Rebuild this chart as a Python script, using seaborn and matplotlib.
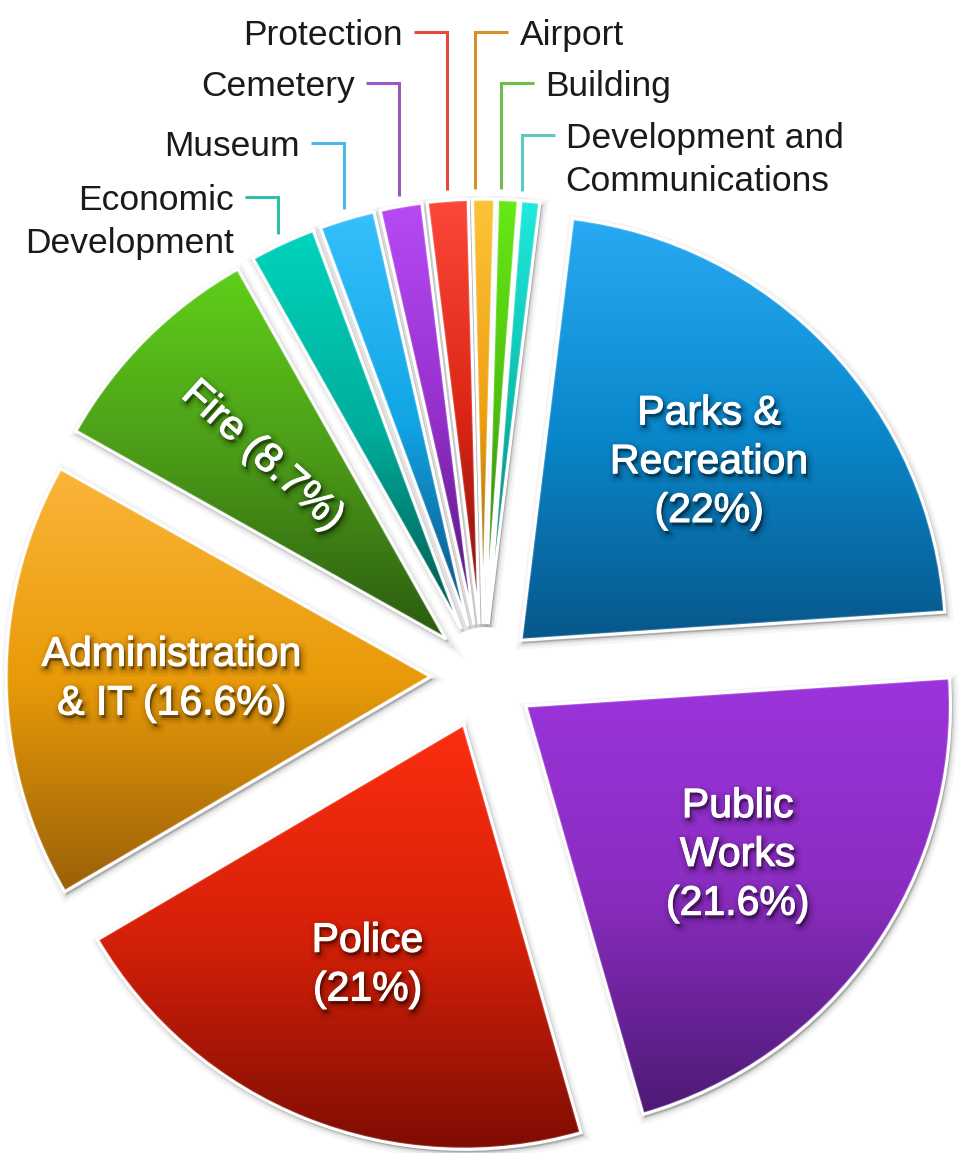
import numpy as np
import matplotlib
matplotlib.use("Agg")
import matplotlib.pyplot as plt
import matplotlib.patheffects as pe
from matplotlib.patches import Wedge
from matplotlib.colors import to_rgb
import seaborn as sns

# Budget share by department (%), clockwise from the top
departments = ["Parks & Recreation", "Public Works", "Police", "Administration & IT", "Fire",
               "Economic Development", "Museum", "Cemetery", "Protection", "Airport",
               "Building", "Development and Communications"]
shares = [22.0, 21.6, 21.0, 16.6, 8.7, 2.5, 2.1, 1.6, 1.55, 0.85, 0.78, 0.72]

# labels drawn inside the big slices / beside the small ones
inner_text = ["Parks &\nRecreation\n({}%)", "Public\nWorks\n({}%)", "Police\n({}%)",
              "Administration\n& IT ({}%)", "Fire ({}%)"]
outer_text = [["Economic", "Development"], ["Museum"], ["Cemetery"], ["Protection"],
              ["Airport"], ["Building"], ["Development and", "Communications"]]

# three-stop shading per slice: top, middle, bottom
top_colors = ["#28aaf4", "#9c34dc", "#fc2e10", "#fbb53a", "#5fd01a", "#00d4bc",
              "#36c0fc", "#b64af4", "#fc4838", "#fcc43a", "#66ea14", "#20eadc"]
mid_colors = ["#0a88cc", "#8a2cc0", "#d42008", "#e89a08", "#4c9c18", "#00ae9c",
              "#12a6e6", "#9630cc", "#dc2616", "#f0a010", "#4ebe10", "#0cbcac"]
bottom_colors = ["#07578a", "#4c1a74", "#7a0c04", "#9a6008", "#2a5a10", "#04504a",
                 "#0a4c7a", "#4a1470", "#7a1008", "#8a5c08", "#2a6008", "#0a5a56"]
line_colors = ["#2fbfa8", "#4db8e8", "#9b59c0", "#e8453c", "#d4902a", "#6cc04a", "#5cc8c0"]

# layout (pixels)
W, H = 962, 1153
center = (483, 477)
radius = 425
explode_px = 52
callout_y = [956, 1010, 1070, 1121, 1121, 1070, 1018]
callout_side = [-1, -1, -1, -1, 1, 1, 1]
callout_attach = [0.5, 0.5, 0.5, 0.5, 0.15, 0.15, 0.0]


class SoftShadow(pe.AbstractPathEffect):
    """blurred-looking drop shadow made from a few translucent strokes"""

    def __init__(self, offset=(1.5, -2.5), widths=(10, 6, 3, 0), alphas=(0.04, 0.07, 0.1, 0.2)):
        super().__init__(offset)
        self.widths = widths
        self.alphas = alphas

    def draw_path(self, renderer, gc, tpath, affine, rgbFace=None):
        for lw, a in zip(self.widths, self.alphas):
            gc0 = renderer.new_gc()
            gc0.copy_properties(gc)
            gc0.set_linewidth(lw)
            gc0.set_foreground("black")
            gc0.set_alpha(a)
            renderer.draw_path(gc0, tpath, affine + self._offset_transform(renderer), (0, 0, 0, a))
            gc0.restore()


sns.set_theme(style="white")
plt.rcParams['font.family'] = ['Liberation Sans', 'DejaVu Sans']

fig = plt.figure(figsize=(W / 100, H / 100), dpi=100)
ax = fig.add_axes([0, 0, 1, 1])

wedges, _ = ax.pie(shares, startangle=83, counterclock=False, radius=radius, center=center,
                   explode=[explode_px] * len(shares), colors=top_colors,
                   wedgeprops=dict(edgecolor="white", linewidth=2.2, zorder=3))

t = np.linspace(0, 1, 256)
for w, c_top, c_mid, c_bot in zip(wedges, top_colors, mid_colors, bottom_colors):
    w.set_facecolor("none")
    verts = w.get_path().vertices
    (x0, y0), (x1, y1) = verts.min(axis=0), verts.max(axis=0)
    stops = np.array([to_rgb(c_bot), to_rgb(c_mid), to_rgb(c_top)])
    ramp = np.stack([np.interp(t, [0, 0.5, 1], stops[:, k]) for k in range(3)], axis=1)
    im = ax.imshow(ramp[:, None, :], extent=(x0, x1, y0, y1), origin="lower",
                   aspect="auto", interpolation="bilinear", zorder=2)
    im.set_clip_path(w)

    # soft drop shadow
    for lw, a in [(9, 0.035), (5, 0.06), (2, 0.1)]:
        sh = Wedge((w.center[0] + 2, w.center[1] - 3), w.r, w.theta1, w.theta2,
                   facecolor="black", edgecolor="black", linewidth=lw, alpha=a, zorder=1)
        ax.add_patch(sh)
    # bevel: light rim
    rim = Wedge(w.center, w.r, w.theta1, w.theta2, facecolor="none", edgecolor="white",
                alpha=0.2, linewidth=3.5, zorder=2.5)
    ax.add_patch(rim)
    rim.set_clip_path(w)

for i, tmpl in enumerate(inner_text):
    w = wedges[i]
    tm = np.deg2rad((w.theta1 + w.theta2) / 2)
    x = w.center[0] + 0.61 * radius * np.cos(tm)
    y = w.center[1] + 0.61 * radius * np.sin(tm)
    rot = np.rad2deg(tm) - 180 + 3 if i == 4 else 0
    s = tmpl.format(f"{shares[i]:g}")
    ax.text(x, y, s, color="white", fontsize=29.5, ha="center", va="center",
            linespacing=1.36, rotation=rot, rotation_mode="anchor", zorder=5,
            path_effects=[SoftShadow(), pe.Stroke(linewidth=0.8, foreground="white"), pe.Normal()])

cap_half = 0.716 * 25.5 * 100 / 72 / 2
for j, lines in enumerate(outer_text):
    w = wedges[5 + j]
    ta = np.deg2rad(w.theta2 - callout_attach[j] * (w.theta2 - w.theta1))
    px = w.center[0] + (radius + 10) * np.cos(ta)
    py = w.center[1] + (radius + 10) * np.sin(ta)
    side = callout_side[j]
    ly = callout_y[j]
    ax.plot([px, px, px + side * 33], [py, ly, ly], color=line_colors[j], lw=2.2,
            solid_joinstyle="miter", solid_capstyle="butt", zorder=4)
    for k, line in enumerate(lines):
        ax.text(px + side * 44, ly - cap_half - k * 43, line, fontsize=25.5, color="#1a1a1a",
                ha="right" if side < 0 else "left", va="baseline", zorder=5)

ax.set_xlim(0, W)
ax.set_ylim(0, H)
ax.axis("off")

fig.savefig("out.png", dpi=100, facecolor="white")
